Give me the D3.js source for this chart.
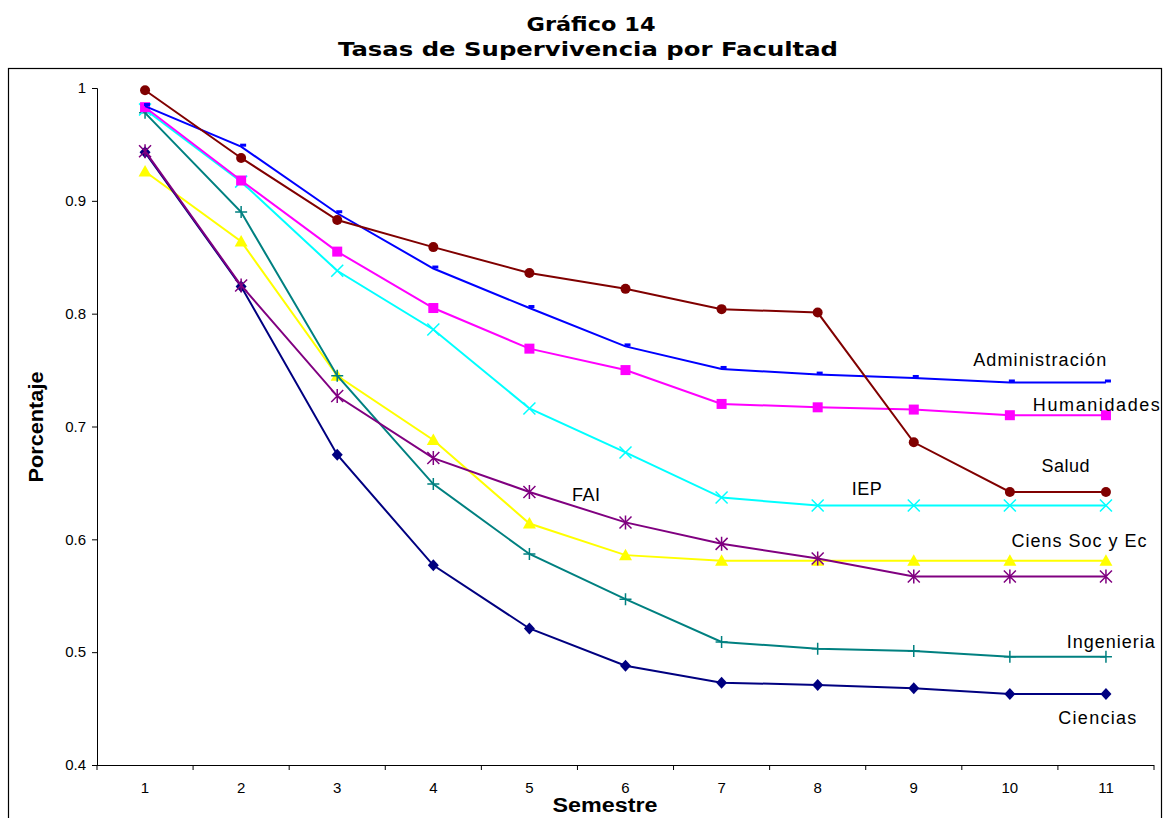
<!DOCTYPE html>
<html>
<head>
<meta charset="utf-8">
<script src="https://cdn.jsdelivr.net/npm/d3@7"></script>
<style>
  body { margin: 0; background: #fff; }
  svg { display: block; font-family: "Liberation Sans", Arial, sans-serif; }
</style>
</head>
<body>
<div id="chart"></div>
<script>
const semestres = [1, 2, 3, 4, 5, 6, 7, 8, 9, 10, 11];
const yTicks = [0.4, 0.5, 0.6, 0.7, 0.8, 0.9, 1];

const administracion = [0.984, 0.948, 0.889, 0.840, 0.805, 0.771, 0.751, 0.746, 0.743, 0.739, 0.739];
const humanidades = [0.983, 0.918, 0.855, 0.805, 0.769, 0.750, 0.720, 0.717, 0.715, 0.710, 0.710];
const salud = [0.998, 0.938, 0.883, 0.859, 0.836, 0.822, 0.804, 0.801, 0.686, 0.642, 0.642];
const iep = [0.981, 0.917, 0.838, 0.786, 0.716, 0.677, 0.637, 0.630, 0.630, 0.630, 0.630];
const ciensSoc = [0.926, 0.864, 0.745, 0.688, 0.614, 0.586, 0.581, 0.581, 0.581, 0.581, 0.581];
const fai = [0.944, 0.825, 0.727, 0.672, 0.642, 0.615, 0.596, 0.583, 0.567, 0.567, 0.567];
const ingenieria = [0.978, 0.890, 0.745, 0.649, 0.587, 0.547, 0.509, 0.503, 0.501, 0.496, 0.496];
const ciencias = [0.943, 0.824, 0.675, 0.577, 0.521, 0.488, 0.473, 0.471, 0.468, 0.463, 0.463];

// drawing order, colours, markers; lab = where the name sits (semester, value), tl = text width
const series = [
  { name: "Ciens Soc y Ec", values: ciensSoc, color: "#ffff00", marker: "triangle", lab: [10.72, 0.5932], tl: 135 },
  { name: "Ingenieria", values: ingenieria, color: "#008080", marker: "plus", lab: [11.05, 0.5037], tl: 88 },
  { name: "Ciencias", values: ciencias, color: "#000080", marker: "diamond", lab: [10.91, 0.4363], tl: 78 },
  { name: "FAI", values: fai, color: "#800080", marker: "asterisk", lab: [5.59, 0.634], tl: 28 },
  { name: "IEP", values: iep, color: "#00ffff", marker: "x", lab: [8.51, 0.6393], tl: 30 },
  { name: "Humanidades", values: humanidades, color: "#ff00ff", marker: "square", lab: [10.9, 0.7137], tl: 127 },
  { name: "Administración", values: administracion, color: "#0000ff", marker: "dash", lab: [10.31, 0.7536], tl: 133 },
  { name: "Salud", values: salud, color: "#800000", marker: "circle", lab: [10.58, 0.6597], tl: 48 },
];

const W = 1166, H = 818;
const plot = { left: 97, right: 1154, top: 88, bottom: 765 };

const svg = d3.select("#chart").append("svg").attr("width", W).attr("height", H);

// outer frame
svg.append("rect")
  .attr("x", 8.5).attr("y", 68.5)
  .attr("width", 1153).attr("height", 760)
  .attr("fill", "none").attr("stroke", "#000").attr("stroke-width", 1.2);

const titleFont = "DejaVu Sans, Verdana, sans-serif";
svg.append("text").attr("x", 591).attr("y", 31).attr("text-anchor", "middle")
  .attr("font-family", titleFont).attr("font-weight", "bold").attr("font-size", 20)
  .attr("textLength", 129).attr("lengthAdjust", "spacingAndGlyphs")
  .text("Gráfico 14");
svg.append("text").attr("x", 588).attr("y", 56).attr("text-anchor", "middle")
  .attr("font-family", titleFont).attr("font-weight", "bold").attr("font-size", 20)
  .attr("textLength", 500).attr("lengthAdjust", "spacingAndGlyphs")
  .text("Tasas de Supervivencia por Facultad");

const x = d3.scaleBand().domain(semestres).range([plot.left, plot.right]);
const y = d3.scaleLinear().domain([0.4, 1]).range([plot.bottom, plot.top]);
const cx = (s) => x(s) + x.bandwidth() / 2;
const xc = d3.scaleLinear().domain([1, 11]).range([cx(1), cx(11)]);

// axes
svg.append("g")
  .attr("transform", `translate(${plot.left},0)`)
  .call(d3.axisLeft(y).tickValues(yTicks).tickSize(5).tickPadding(6)
    .tickFormat((d) => (d === 1 ? "1" : d3.format(".1f")(d))))
  .call((g) => g.selectAll("text").attr("font-size", 15).attr("font-family", "Liberation Sans, Arial, sans-serif"));

svg.append("g")
  .attr("transform", `translate(0,${plot.bottom})`)
  .call(d3.axisBottom(x).tickSize(0).tickPadding(17))
  .call((g) => g.selectAll("text").attr("font-size", 15).attr("font-family", "Liberation Sans, Arial, sans-serif"))
  .call((g) => g.select(".domain").attr("d", `M${plot.left},0.5H${plot.right}`));

// category tick marks between bands
svg.append("g")
  .selectAll("line")
  .data(d3.range(semestres.length + 1))
  .join("line")
  .attr("x1", (i) => plot.left + i * x.step())
  .attr("x2", (i) => plot.left + i * x.step())
  .attr("y1", plot.bottom)
  .attr("y2", plot.bottom + 5)
  .attr("stroke", "#000");

svg.append("text").attr("x", 605).attr("y", 812).attr("text-anchor", "middle")
  .attr("font-weight", "bold").attr("font-size", 20)
  .attr("textLength", 105).attr("lengthAdjust", "spacingAndGlyphs")
  .text("Semestre");
svg.append("text")
  .attr("transform", `translate(43,427) rotate(-90)`)
  .attr("text-anchor", "middle").attr("font-weight", "bold").attr("font-size", 20)
  .attr("textLength", 111).attr("lengthAdjust", "spacingAndGlyphs")
  .text("Porcentaje");

const line = d3.line().x((d, i) => cx(semestres[i])).y((d) => y(d));

function drawMarker(g, type, color) {
  if (type === "circle") {
    g.append("circle").attr("r", 5).attr("fill", color);
  } else if (type === "square") {
    g.append("rect").attr("x", -5).attr("y", -5).attr("width", 10).attr("height", 10).attr("fill", color);
  } else if (type === "diamond") {
    g.append("path").attr("d", "M0,-6L5.5,0L0,6L-5.5,0Z").attr("fill", color);
  } else if (type === "triangle") {
    g.append("path").attr("d", "M0,-6.5L6.5,5L-6.5,5Z").attr("fill", color);
  } else if (type === "dash") {
    g.append("rect").attr("x", -1).attr("y", -3).attr("width", 6).attr("height", 3).attr("fill", color);
  } else if (type === "plus") {
    g.append("path").attr("d", "M-6,0H6M0,-6V6").attr("stroke", color).attr("stroke-width", 1.5);
  } else if (type === "x") {
    g.append("path").attr("d", "M-6,-6L6,6M-6,6L6,-6").attr("stroke", color).attr("stroke-width", 1.5);
  } else if (type === "asterisk") {
    g.append("path").attr("d", "M-6,-6L6,6M-6,6L6,-6M0,-7V7").attr("stroke", color).attr("stroke-width", 1.5);
  }
}

series.forEach((s) => {
  const g = svg.append("g");
  g.append("path")
    .attr("d", line(s.values))
    .attr("fill", "none")
    .attr("stroke", s.color)
    .attr("stroke-width", 2);
  s.values.forEach((v, i) => {
    const m = g.append("g").attr("transform", `translate(${cx(semestres[i])},${y(v)})`);
    drawMarker(m, s.marker, s.color);
  });
});

// series labels
series.forEach((s) => {
  const [sx, sv] = s.lab;
  svg.append("text")
    .attr("x", xc(sx))
    .attr("y", y(sv))
    .attr("text-anchor", "middle")
    .attr("font-size", 18)
    .attr("fill", "#000")
    .attr("textLength", s.tl)
    .attr("lengthAdjust", "spacing")
    .text(s.name);
});
</script>
</body>
</html>
